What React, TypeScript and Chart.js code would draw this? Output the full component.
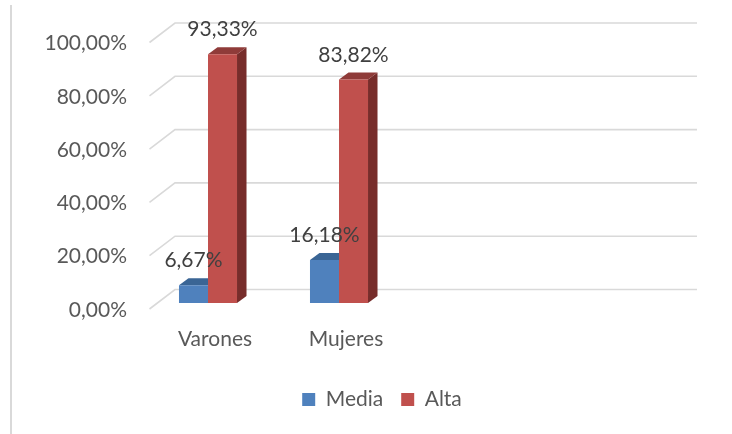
import React, { useEffect, useRef } from "react";
import { Chart, registerables } from "chart.js";

Chart.register(...registerables);

const categories = ["Varones", "Mujeres", "", ""];
const mediaValues = [6.67, 16.18, null, null];
const altaValues = [93.33, 83.82, null, null];
const yTicks = [0, 20, 40, 60, 80, 100];

const FONT = "Lato, 'Open Sans', sans-serif";
const FS = 21;
const AXIS_COLOR = "#595959";
const LABEL_COLOR = "#404040";
const GRID_COLOR = "#d9d9d9";

const fmt = (v: number) => v.toFixed(2).replace(".", ",") + "%";

// 3D geometry offsets (pixels)
const FRONT_DX = 7;
const FRONT_DY = 6;
const WALL_DX = 25.5;
const WALL_DY = 19.5;
const BAR_DX = 9.5;
const BAR_DY = 7;

const faceColors: Record<string, { top: string; side: string }> = {
  Media: { top: "#3a6595", side: "#2f5580" },
  Alta: { top: "#8f3b39", side: "#772d2b" },
};

const wallPlugin = {
  id: "wall3d",
  beforeDraw(chart: any) {
    const ctx = chart.ctx;
    ctx.save();
    ctx.strokeStyle = GRID_COLOR;
    ctx.lineWidth = 2;
    ctx.beginPath();
    ctx.moveTo(11, 5);
    ctx.lineTo(11, 434);
    ctx.stroke();
    ctx.restore();
  },
  beforeDatasetsDraw(chart: any) {
    const ctx = chart.ctx;
    const y = chart.scales.y;
    const area = chart.chartArea;
    ctx.save();
    ctx.strokeStyle = GRID_COLOR;
    ctx.lineWidth = 1.6;
    yTicks.forEach((v) => {
      const yf = y.getPixelForValue(v) + FRONT_DY;
      const xf = area.left + FRONT_DX;
      ctx.beginPath();
      ctx.moveTo(xf, yf);
      ctx.lineTo(xf + WALL_DX, yf - WALL_DY);
      ctx.lineTo(area.right + FRONT_DX + WALL_DX - 2, yf - WALL_DY);
      ctx.stroke();
    });
    chart.data.datasets.forEach((ds: any, di: number) => {
      const meta = chart.getDatasetMeta(di);
      const cols = faceColors[ds.label];
      meta.data.forEach((el: any, i: number) => {
        const v = ds.data[i];
        if (v === null || v === undefined) return;
        const x0 = el.x - el.width / 2;
        const x1 = el.x + el.width / 2;
        const yt = el.y;
        const yb = el.base;
        ctx.fillStyle = cols.side;
        ctx.beginPath();
        ctx.moveTo(x1, yt);
        ctx.lineTo(x1 + BAR_DX, yt - BAR_DY);
        ctx.lineTo(x1 + BAR_DX, yb - BAR_DY);
        ctx.lineTo(x1, yb);
        ctx.closePath();
        ctx.fill();
        ctx.fillStyle = cols.top;
        ctx.beginPath();
        ctx.moveTo(x0, yt);
        ctx.lineTo(x1, yt);
        ctx.lineTo(x1 + BAR_DX, yt - BAR_DY);
        ctx.lineTo(x0 + BAR_DX, yt - BAR_DY);
        ctx.closePath();
        ctx.fill();
      });
    });
    ctx.restore();
  },
  afterDatasetsDraw(chart: any) {
    const ctx = chart.ctx;
    ctx.save();
    ctx.font = `${FS}px ${FONT}`;
    ctx.fillStyle = LABEL_COLOR;
    ctx.textAlign = "center";
    ctx.textBaseline = "alphabetic";
    chart.data.datasets.forEach((ds: any, di: number) => {
      const meta = chart.getDatasetMeta(di);
      meta.data.forEach((el: any, i: number) => {
        const v = ds.data[i];
        if (v === null || v === undefined) return;
        ctx.fillText(fmt(v), el.x, el.y - 18);
      });
    });
    ctx.restore();
  },
};

export default function App() {
  const ref = useRef<HTMLCanvasElement>(null);
  useEffect(() => {
    if (!ref.current) return;
    const chart = new Chart(ref.current, {
      type: "bar",
      data: {
        labels: categories,
        datasets: [
          { label: "Media", data: mediaValues, backgroundColor: "#4f81bd", yAxisID: "y" },
          { label: "Alta", data: altaValues, backgroundColor: "#c0504d", yAxisID: "y" },
        ],
      },
      options: {
        animation: false,
        responsive: false,
        devicePixelRatio: 1,
        layout: { padding: { left: 32, right: 0, top: 36.5, bottom: 14 } },
        datasets: { bar: { categoryPercentage: 0.443, barPercentage: 1 } },
        scales: {
          x: {
            grid: { display: false, drawTicks: false },
            border: { display: false },
            ticks: {
              color: AXIS_COLOR,
              font: { family: FONT, size: FS },
              padding: 24,
              labelOffset: 7,
              maxRotation: 0,
              autoSkip: false,
            },
            afterFit: (s: any) => {
              s.height = 68;
            },
          },
          y: {
            position: "left",
            min: 0,
            max: 100,
            grid: { display: false, drawTicks: false },
            border: { display: false },
            ticks: {
              stepSize: 20,
              color: AXIS_COLOR,
              font: { family: FONT, size: FS },
              padding: 15.5,
              labelOffset: 7,
              callback: (v: any) => fmt(Number(v)),
            },
            afterFit: (s: any) => {
              s.width = 110.5;
            },
          },
          yRight: {
            position: "right",
            min: 0,
            max: 100,
            grid: { display: false, drawTicks: false },
            border: { display: false },
            ticks: { display: false },
            afterFit: (s: any) => {
              s.width = 65.5;
            },
          },
        },
        plugins: {
          legend: {
            position: "bottom",
            labels: {
              boxWidth: 13,
              boxHeight: 13,
              padding: 18,
              color: AXIS_COLOR,
              font: { family: FONT, size: FS },
            },
          },
          tooltip: { enabled: false },
        },
      },
      plugins: [wallPlugin],
    });
    return () => chart.destroy();
  }, []);
  return (
    <div style={{ position: "fixed", left: 0, top: 0, width: 732, height: 434, background: "#fff" }}>
      <canvas ref={ref} width={732} height={434} />
    </div>
  );
}
